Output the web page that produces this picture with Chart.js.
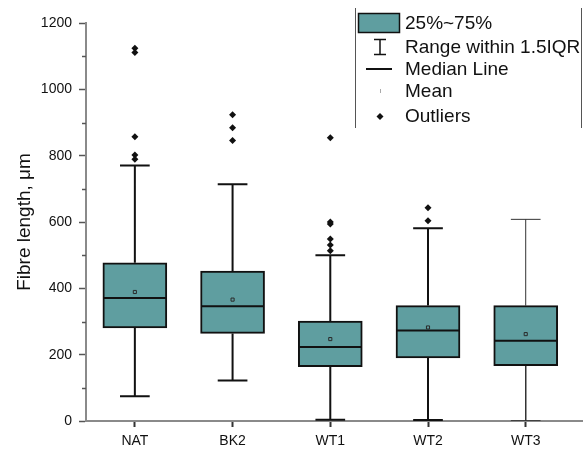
<!DOCTYPE html>
<html>
<head>
<meta charset="utf-8">
<script src="https://cdn.jsdelivr.net/npm/chart.js@4/dist/chart.umd.min.js"></script>
<style>
  html, body { margin: 0; padding: 0; background: #ffffff; }
  #wrap { position: relative; width: 587px; height: 450px; }
</style>
</head>
<body>
<div id="wrap"><canvas id="c"></canvas></div>
<script>
// ---- data ----
const categories  = ['NAT', 'BK2', 'WT1', 'WT2', 'WT3'];
const q1          = [281, 264, 164, 190, 167];
const q3          = [477, 452, 301, 348, 348];
const median      = [371, 346, 223, 273, 242];
const mean        = [389, 366, 247, 282, 262];
const whiskerLow  = [75, 122, 4, 3, 1];
const whiskerHigh = [770, 714, 500, 581, 608];
const outliers    = [
  [1124, 1111, 857, 802, 789],
  [923, 884, 846],
  [854, 600, 594, 549, 531, 513],
  [643, 604],
  []
];
const yTicks = [0, 200, 400, 600, 800, 1000, 1200];
const legendLabels = ['25%~75%', 'Range within 1.5IQR', 'Median Line', 'Mean', 'Outliers'];

// ---- styling ----
const BOX_FILL = '#5f9ea0';
const INK = '#111111';
const AXIS = '#8a8a8a';
const BOX_HALF = 0.318;   // half box width in category units
const CAP_HALF = 0.152;   // half cap width in category units
const GAP = {x: null, y: null};

function whiskerPoints(idx) {
  const pts = [];
  idx.forEach(i => {
    const x = i + 1;
    pts.push({x, y: q3[i]}, {x, y: whiskerHigh[i]}, GAP);
    pts.push({x: x - CAP_HALF, y: whiskerHigh[i]}, {x: x + CAP_HALF, y: whiskerHigh[i]}, GAP);
    pts.push({x, y: q1[i]}, {x, y: whiskerLow[i]}, GAP);
    pts.push({x: x - CAP_HALF, y: whiskerLow[i]}, {x: x + CAP_HALF, y: whiskerLow[i]}, GAP);
  });
  return pts;
}
const medianPoints = [];
median.forEach((m, i) => {
  medianPoints.push({x: i + 1 - BOX_HALF, y: m}, {x: i + 1 + BOX_HALF, y: m}, GAP);
});
const outlierPoints = [];
outliers.forEach((arr, i) => arr.forEach(v => outlierPoints.push({x: i + 1, y: v})));

const minorTicks = {
  id: 'minorTicks',
  afterDraw(chart) {
    const y = chart.scales.y, ctx = chart.ctx;
    const x0 = chart.chartArea.left;
    ctx.save();
    ctx.strokeStyle = '#555';
    ctx.lineWidth = 1.5;
    for (let v = yTicks[0] + 100; v < yTicks[yTicks.length - 1]; v += 200) {
      const py = Math.round(y.getPixelForValue(v)) + 0.5;
      ctx.beginPath(); ctx.moveTo(x0 - 4, py); ctx.lineTo(x0, py); ctx.stroke();
    }
    ctx.restore();
  }
};

const boxLegend = {
  id: 'boxLegend',
  afterDraw(chart) {
    const ctx = chart.ctx;
    ctx.save();
    ctx.strokeStyle = '#555';
    ctx.lineWidth = 1;
    ctx.beginPath();
    ctx.moveTo(355.5, 8); ctx.lineTo(355.5, 128);
    ctx.moveTo(581.5, 8); ctx.lineTo(581.5, 128);
    ctx.stroke();

    const rows = [23, 47, 69, 91, 116];
    const sx = 380;
    // box
    ctx.fillStyle = BOX_FILL;
    ctx.fillRect(358, 13, 42, 20);
    ctx.strokeStyle = INK; ctx.lineWidth = 1.5;
    ctx.strokeRect(358.5, 13.5, 41, 19);
    // range I
    ctx.lineWidth = 1.5;
    ctx.beginPath();
    ctx.moveTo(sx, 39); ctx.lineTo(sx, 55);
    ctx.moveTo(sx - 6, 39.5); ctx.lineTo(sx + 6, 39.5);
    ctx.moveTo(sx - 6, 54.5); ctx.lineTo(sx + 6, 54.5);
    ctx.stroke();
    // median line
    ctx.lineWidth = 2;
    ctx.beginPath(); ctx.moveTo(366, 69); ctx.lineTo(392, 69); ctx.stroke();
    // mean
    ctx.strokeStyle = '#aaaaaa'; ctx.lineWidth = 1;
    ctx.beginPath(); ctx.moveTo(380.5, 89); ctx.lineTo(380.5, 93); ctx.stroke();
    // outlier diamond
    ctx.fillStyle = INK;
    ctx.beginPath();
    ctx.moveTo(sx, 113); ctx.lineTo(sx + 3.5, 116.5); ctx.lineTo(sx, 120); ctx.lineTo(sx - 3.5, 116.5);
    ctx.closePath(); ctx.fill();

    ctx.fillStyle = INK;
    ctx.font = '19px "Liberation Sans", Arial, sans-serif';
    ctx.textBaseline = 'middle';
    ctx.textAlign = 'left';
    legendLabels.forEach((t, k) => ctx.fillText(t, 405, rows[k] + 1));
    ctx.restore();
  }
};

new Chart(document.getElementById('c'), {
  type: 'bar',
  data: {
    datasets: [
      {
        type: 'scatter', label: 'whiskers', showLine: true, spanGaps: false,
        data: whiskerPoints([0, 1, 2, 3]),
        borderColor: INK, borderWidth: 2, pointRadius: 0, order: 6
      },
      {
        type: 'scatter', label: 'whiskersThin', showLine: true, spanGaps: false,
        data: whiskerPoints([4]),
        borderColor: '#333333', borderWidth: 1, pointRadius: 0, order: 6
      },
      {
        type: 'bar', label: '25%~75%',
        data: categories.map((c, i) => ({x: i + 1, y: [q1[i], q3[i]]})),
        backgroundColor: BOX_FILL, borderColor: INK, borderWidth: 2,
        borderSkipped: false, barThickness: 64, order: 5
      },
      {
        type: 'scatter', label: 'Median Line', showLine: true, spanGaps: false,
        data: medianPoints, borderColor: INK, borderWidth: 2, pointRadius: 0, order: 4
      },
      {
        type: 'scatter', label: 'Mean',
        data: mean.map((m, i) => ({x: i + 1, y: m})),
        pointStyle: 'rect', pointRadius: 2.2, borderWidth: 1,
        borderColor: '#2a2a2a', backgroundColor: 'rgba(0,0,0,0)', order: 3
      },
      {
        type: 'scatter', label: 'Outliers',
        data: outlierPoints,
        pointStyle: 'rectRot', pointRadius: 3.5, borderWidth: 0,
        backgroundColor: INK, borderColor: INK, order: 2
      }
    ]
  },
  options: {
    responsive: true,
    maintainAspectRatio: false,
    animation: false,
    events: [],
    layout: { padding: { top: 23, right: 0, bottom: 0, left: 0 } },
    plugins: { legend: { display: false }, tooltip: { enabled: false } },
    scales: {
      x: {
        type: 'linear', offset: false,
        min: 0.5, max: 5.576,
        afterBuildTicks(s) { s.ticks = categories.map((c, i) => ({ value: i + 1 })); },
        afterFit(s) { s.height = 29; },
        ticks: {
          callback: v => categories[v - 1] || '',
          color: '#111', font: { family: '"Liberation Sans", Arial, sans-serif', size: 14 },
          padding: 6, maxRotation: 0, autoSkip: false
        },
        grid: { offset: false, drawOnChartArea: false, tickLength: 6, tickColor: '#333', tickWidth: 2 },
        border: { color: AXIS, width: 2 }
      },
      y: {
        min: 0, max: 1200,
        afterBuildTicks(s) { s.ticks = yTicks.map(v => ({ value: v })); },
        afterFit(s) { s.width = 86; },
        ticks: {
          callback: v => String(v),
          color: '#111', font: { family: '"Liberation Sans", Arial, sans-serif', size: 14 },
          padding: 7
        },
        grid: { drawOnChartArea: false, tickLength: 7, tickColor: '#555', tickWidth: 1.5 },
        border: { color: AXIS, width: 2 },
        title: {
          display: true, text: 'Fibre length, \u03bcm', color: '#111',
          font: { family: '"Liberation Sans", Arial, sans-serif', size: 19 },
          padding: { top: 13, bottom: 0 }
        }
      }
    }
  },
  plugins: [minorTicks, boxLegend]
});
</script>
</body>
</html>
